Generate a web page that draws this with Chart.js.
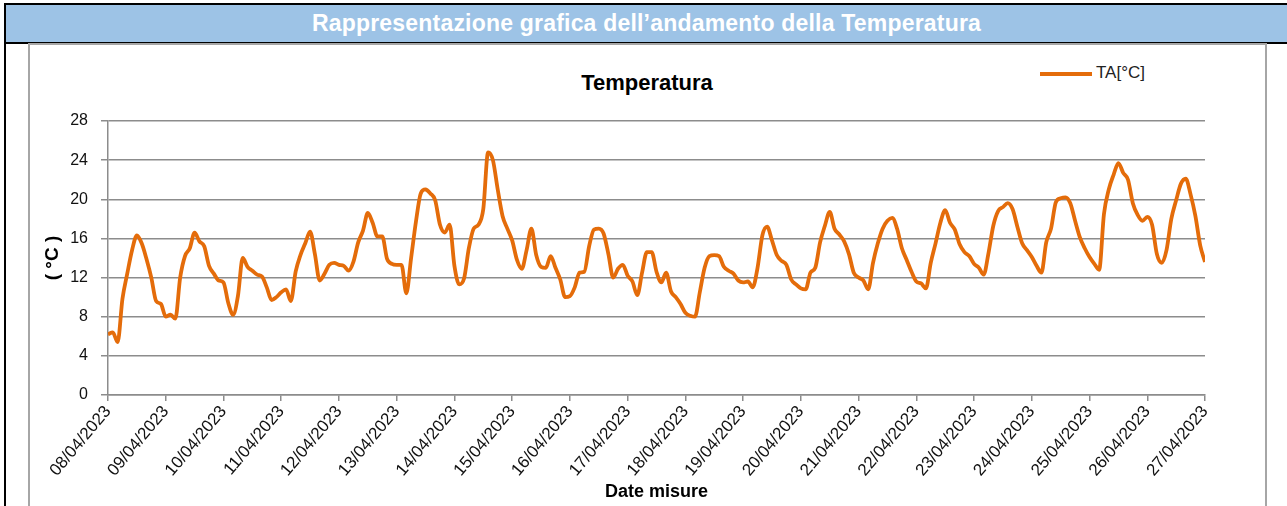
<!DOCTYPE html>
<html>
<head>
<meta charset="utf-8">
<script src="https://cdn.jsdelivr.net/npm/chart.js@4"></script>
<style>
  body { margin: 0; width: 1287px; height: 506px; overflow: hidden; background: #fff; position: relative; font-family: "Liberation Sans", Arial, sans-serif; }
  #band { position: absolute; left: 4px; top: 3px; right: 0; height: 37px; background: #9dc3e6; border-top: 2px solid #000; border-bottom: 2px solid #000; border-left: 2px solid #000; }
  #band span { display: block; text-align: center; color: #fff; font-weight: bold; font-size: 23px; letter-spacing: 0.2px; line-height: 37px; }
  #leftline { position: absolute; left: 4px; top: 44px; width: 2px; height: 462px; background: #000; }
  #frame { position: absolute; left: 28px; top: 43px; width: 1235px; height: 470px; border: 2px solid #a6a6a6; }
  #title { position: absolute; left: 447px; width: 400px; top: 70px; text-align: center; font-size: 22px; font-weight: bold; color: #000; }
  #legend { position: absolute; left: 1040px; top: 63px; font-size: 17px; color: #222; }
  #legend i { display: inline-block; width: 52px; height: 4px; background: #e46c0a; vertical-align: middle; margin-right: 4px; }
  #wrap { position: absolute; left: 0; top: 44px; width: 1287px; height: 462px; }
</style>
</head>
<body>
<div id="band"><span>Rappresentazione grafica dell’andamento della Temperatura</span></div>
<div id="leftline"></div>
<div id="frame"></div>
<div id="title">Temperatura</div>
<div id="legend"><i></i>TA[°C]</div>
<div id="wrap"><canvas id="chart"></canvas></div>
<script>
// giorni sull'asse x (una tacca ogni 24 ore)
const days = ["08/04/2023", "09/04/2023", "10/04/2023", "11/04/2023", "12/04/2023",
  "13/04/2023", "14/04/2023", "15/04/2023", "16/04/2023", "17/04/2023", "18/04/2023",
  "19/04/2023", "20/04/2023", "21/04/2023", "22/04/2023", "23/04/2023", "24/04/2023",
  "25/04/2023", "26/04/2023", "27/04/2023"];

const stepHours = 2;

// TA[°C], una lettura ogni 2 ore dal 08/04 00:00
const temps = [
  6.2, 6.4, 5.4, 9.8, 12.4, 14.8, 16.3, 15.5, 13.9, 12.0, 9.6, 9.3,
  8.0, 8.2, 7.8, 12.0, 14.2, 15.0, 16.6, 15.7, 15.2, 13.2, 12.4, 11.7,
  11.5, 9.4, 8.2, 10.1, 14.0, 13.1, 12.7, 12.3, 12.1, 11.0, 9.7, 10.0,
  10.5, 10.8, 9.6, 12.6, 14.3, 15.5, 16.7, 14.4, 11.7, 12.4, 13.3, 13.5,
  13.3, 13.2, 12.7, 13.6, 15.6, 16.8, 18.6, 17.6, 16.2, 16.2, 13.9, 13.4,
  13.3, 13.3, 10.4, 14.0, 17.7, 20.6, 21.0, 20.6, 19.9, 17.4, 16.6, 17.4,
  13.2, 11.3, 11.9, 15.0, 17.0, 17.4, 19.0, 24.8, 24.0, 21.0, 18.3, 17.0,
  15.8, 13.8, 12.9, 14.8, 17.0, 14.3, 13.1, 13.0, 14.2, 13.0, 11.8, 10.0,
  10.1, 11.0, 12.5, 12.6, 15.2, 16.9, 17.0, 16.5, 14.4, 12.0, 12.9, 13.3,
  12.2, 11.6, 10.2, 12.5, 14.6, 14.6, 12.6, 11.5, 12.5, 10.6, 10.0, 9.3,
  8.4, 8.1, 8.0, 10.5, 13.0, 14.2, 14.3, 14.2, 13.1, 12.7, 12.4, 11.7,
  11.5, 11.6, 11.0, 13.0, 16.3, 17.2, 15.8, 14.3, 13.7, 13.3, 11.8, 11.3,
  10.9, 10.8, 12.5, 13.0, 15.6, 17.3, 18.7, 17.0, 16.4, 15.7, 14.4, 12.5,
  12.0, 11.7, 10.8, 13.5, 15.5, 17.0, 17.8, 18.1, 17.0, 15.0, 13.8, 12.6,
  11.6, 11.4, 10.9, 13.5, 15.5, 17.6, 18.9, 17.6, 16.9, 15.4, 14.6, 14.2,
  13.4, 13.0, 12.3, 14.5, 17.3, 18.8, 19.2, 19.6, 19.0, 17.2, 15.5, 14.8,
  14.1, 13.2, 12.5, 15.6, 17.0, 19.7, 20.1, 20.2, 19.6, 17.8, 16.1, 15.0,
  14.1, 13.4, 12.8, 18.5, 21.0, 22.5, 23.7, 22.7, 22.0, 19.6, 18.4, 17.8,
  18.2, 17.4, 14.4, 13.5, 14.8, 18.0, 19.9, 21.6, 22.1, 20.5, 18.3, 15.3,
  13.6
];

const points = temps.map((t, i) => ({ x: i * stepHours, y: t }));

const ctx = document.getElementById("chart").getContext("2d");

new Chart(ctx, {
  type: "line",
  data: {
    datasets: [{
      label: "TA[°C]",
      data: points,
      borderColor: "#e46c0a",
      borderWidth: 3.8,
      pointRadius: 0,
      cubicInterpolationMode: "monotone",
      fill: false
    }]
  },
  options: {
    responsive: true,
    maintainAspectRatio: false,
    animation: false,
    layout: { padding: { left: 30, right: 82, top: 77, bottom: 0 } },
    plugins: {
      legend: { display: false },
      tooltip: { enabled: false }
    },
    scales: {
      x: {
        type: "linear",
        min: 0,
        max: (days.length - 1) * 24,
        afterFit: (scale) => { scale.height = 111; },
        border: { color: "#8c8c8c", width: 1.5 },
        grid: { drawOnChartArea: false, drawTicks: true, tickLength: 6, tickColor: "#8c8c8c", lineWidth: 1.5 },
        ticks: {
          stepSize: 24,
          autoSkip: false,
          minRotation: 50,
          maxRotation: 50,
          padding: 1,
          color: "#111",
          font: { family: "Liberation Sans", size: 17 },
          callback: (v) => days[v / 24]
        },
        title: {
          display: true,
          text: "Date misure",
          color: "#000",
          font: { family: "Liberation Sans", size: 18, weight: "bold" },
          padding: { top: 0, bottom: 3 }
        }
      },
      y: {
        min: 0,
        max: 28,
        afterFit: (scale) => { scale.width = 78; },
        border: { color: "#8c8c8c", width: 1.5 },
        grid: { color: "#8c8c8c", lineWidth: 1.5, tickLength: 7, tickColor: "#8c8c8c" },
        ticks: {
          stepSize: 4,
          padding: 13,
          color: "#111",
          font: { family: "Liberation Sans", size: 16 }
        },
        title: {
          display: true,
          text: "( °C )",
          color: "#000",
          font: { family: "Liberation Sans", size: 19, weight: "bold" },
          padding: { top: 11, bottom: 0 }
        }
      }
    }
  }
});
</script>
</body>
</html>
